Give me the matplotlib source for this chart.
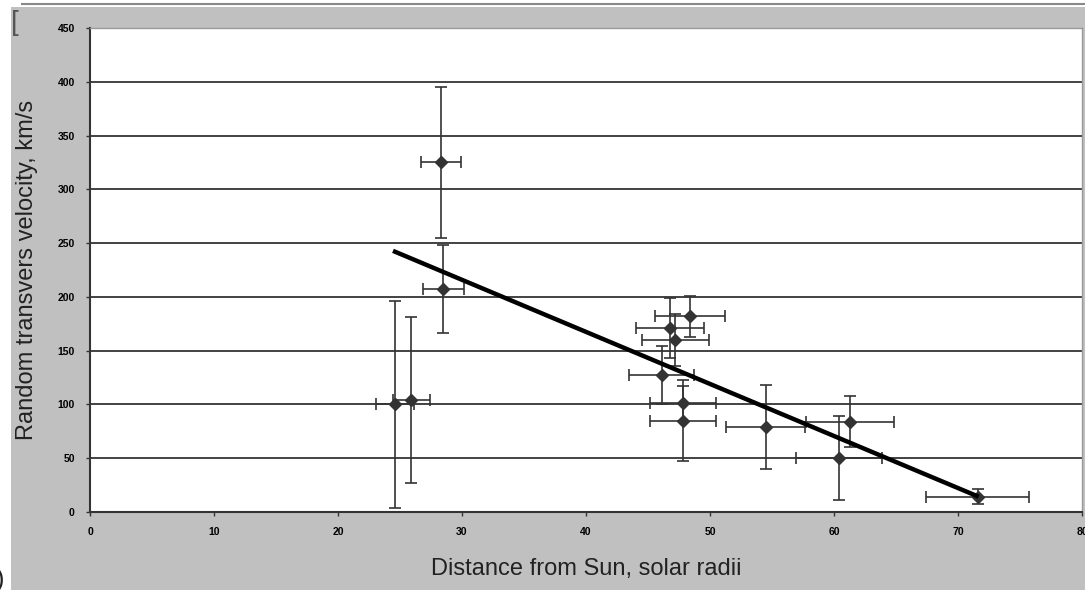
import matplotlib
matplotlib.use("Agg")
import matplotlib.pyplot as plt
from matplotlib.patches import Rectangle

# measured points (distance in solar radii, velocity in km/s)
dist = [28.3, 28.5, 24.6, 25.9, 48.4, 46.8, 47.2, 46.1, 47.8, 47.8, 54.5, 60.4, 61.3, 71.6]
vel = [325, 207, 100, 104, 182, 171, 160, 127, 101, 85, 79, 50, 84, 14]
dist_err = [1.6, 1.65, 1.5, 1.5, 2.8, 2.75, 2.7, 2.6, 2.65, 2.65, 3.2, 3.45, 3.55, 4.15]
vel_err = [70, 41, 96, 77, 19, 28, 24, 27, 16, 38, 39, 39, 24, 7]

# linear trend line end points
fit_x = [24.6, 71.5]
fit_y = [242, 15]

x_ticks = list(range(0, 81, 10))
y_ticks = list(range(0, 451, 50))

plt.rcParams["font.family"] = ["Liberation Sans", "DejaVu Sans"]

fig = plt.figure(figsize=(10.85, 5.9), dpi=100, facecolor="white")
# grey chart area background
fig.patches.append(Rectangle((11 / 1085, 0), 1 - 11 / 1085, 1 - 7 / 590,
                             transform=fig.transFigure, facecolor="#c0c0c0",
                             edgecolor="none", zorder=-10))
fig.lines.append(plt.Line2D([0.02, 1], [1 - 4 / 590, 1 - 4 / 590],
                            transform=fig.transFigure, color="#888888", lw=1.5))
fig.text(11 / 1085, 1 - 23 / 590, "[", fontsize=20, color="#555555", va="center",
         fontweight="light")
fig.text(-4 / 1085, 10 / 590, ")", fontsize=18, color="#222222", va="center")

ax = fig.add_axes([90 / 1085, 78 / 590, 992 / 1085, 484 / 590])
ax.set_facecolor("white")

ax.errorbar(dist, vel, xerr=dist_err, yerr=vel_err, fmt="D", color="#333333",
            ecolor="#333333", markersize=6.5, elinewidth=1.2, capsize=4.5,
            capthick=1.2, zorder=3)
ax.plot(fit_x, fit_y, color="black", lw=3.2, zorder=4)

ax.set_xlim(0, 80)
ax.set_ylim(0, 450)
ax.set_xticks(x_ticks)
ax.set_yticks(y_ticks)
ax.grid(axis="y", color="#222222", lw=1.2)
ax.set_axisbelow(True)

for side in ["left", "bottom"]:
    ax.spines[side].set_color("#333333")
    ax.spines[side].set_linewidth(1.5)
for side in ["top", "right"]:
    ax.spines[side].set_color("#999999")
    ax.spines[side].set_linewidth(1.0)

ax.tick_params(axis="both", length=3, width=1, color="#333333",
               labelsize=7.5, pad=8)
for lbl in ax.get_xticklabels() + ax.get_yticklabels():
    lbl.set_fontweight("bold")

ax.set_xlabel("Distance from Sun, solar radii", fontsize=17, color="#222222", labelpad=15)
ax.set_ylabel("Random transvers velocity, km/s", fontsize=17, color="#222222", labelpad=14)

fig.savefig("out.png", dpi=100, facecolor=fig.get_facecolor())
